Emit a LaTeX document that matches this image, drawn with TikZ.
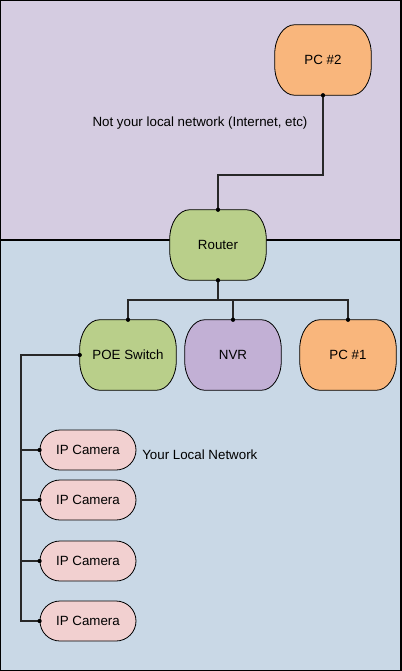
\documentclass[tikz,border=0pt]{standalone}
\usepackage{fontspec}
\setmainfont{Liberation Sans}
\usetikzlibrary{shapes.misc,backgrounds}
\definecolor{topbg}{RGB}{213,204,225}
\definecolor{botbg}{RGB}{201,216,230}
\definecolor{gfill}{RGB}{185,207,138}
\definecolor{vfill}{RGB}{194,176,213}
\definecolor{ofill}{RGB}{249,182,124}
\definecolor{pfill}{RGB}{242,208,208}
\definecolor{wire}{RGB}{40,40,40}
\tikzset{
  bigbox/.style={rectangle, minimum width=72pt, minimum height=52.5pt, inner sep=0pt},
  cam/.style={rounded rectangle, draw=black, line width=0.6pt, fill=pfill, minimum width=72pt, minimum height=30pt, inner sep=0pt},
  wireline/.style={draw=wire, line width=1.1pt},
  lbl/.style={inner sep=0pt},
}
\newcommand\bigshape[2]{%
  \filldraw[fill=#2, draw=black, line width=0.6pt]
    ([xshift=15pt]#1.north west) -- ([xshift=-15pt]#1.north east)
    arc[start angle=90, end angle=0, x radius=15pt, y radius=22pt]
    -- ([yshift=22pt]#1.south east)
    arc[start angle=0, end angle=-90, x radius=15pt, y radius=22pt]
    -- ([xshift=15pt]#1.south west)
    arc[start angle=270, end angle=180, x radius=15pt, y radius=22pt]
    -- ([yshift=-22pt]#1.north west)
    arc[start angle=180, end angle=90, x radius=15pt, y radius=22pt]
    -- cycle;}
\newcommand\jdot[1]{\fill[black] (#1) circle[radius=1.6pt];}
\begin{document}
\begin{tikzpicture}[x=0.75pt, y=-0.75pt, font=\fontsize{10}{12}\selectfont]
\useasboundingbox (0,0) rectangle (401,671);
% nodes
\node[bigbox] (pc2) at (323,60) {PC \#2};
\node[bigbox] (router) at (218,245) {Router};
\node[bigbox] (poe) at (128,355) {POE Switch};
\node[bigbox] (nvr) at (233,355) {NVR};
\node[bigbox] (pc1) at (348,355) {PC \#1};
\node[cam] (cam1) at (88,450) {IP Camera};
\node[cam] (cam2) at (88,500) {IP Camera};
\node[cam] (cam3) at (88,561) {IP Camera};
\node[cam] (cam4) at (88,621) {IP Camera};
\node[lbl] (txtout) at (200,123) {Not your local network (Internet, etc)};
\node[lbl, anchor=west] (txtin) at (142,455) {Your Local Network};
\begin{pgfonlayer}{background}
  \fill[topbg] (0,0) rectangle (401,240);
  \fill[botbg] (0,240) rectangle (401,671);
  \draw[black, line width=0.8pt] (0,240) -- (401,240);
  \draw[black, line width=1.4pt] (0,0) rectangle (401,671);
  \bigshape{pc2}{ofill}
  \bigshape{router}{gfill}
  \bigshape{poe}{gfill}
  \bigshape{nvr}{vfill}
  \bigshape{pc1}{ofill}
\end{pgfonlayer}
% connectors
\coordinate (top) at (218,175);
\coordinate (hub) at (218,300);
\coordinate (busx) at (21,355);
\draw[wireline] (router.north) -- (top) -| (pc2.south);
\draw[wireline, line width=1.6pt] (router.south) -- (hub);
\draw[wireline] (poe.north) |- (hub) -| (pc1.north);
\draw[wireline] (nvr.north) -- (nvr.north |- hub);
\draw[wireline] (poe.west) -- (busx) |- (cam4.west);
\draw[wireline] (cam1.west) -- (cam1.west -| busx);
\draw[wireline] (cam2.west) -- (cam2.west -| busx);
\draw[wireline] (cam3.west) -- (cam3.west -| busx);
\jdot{pc2.south}\jdot{router.north}\jdot{router.south}
\jdot{poe.north}\jdot{nvr.north}\jdot{pc1.north}\jdot{poe.west}
\jdot{cam1.west}\jdot{cam2.west}\jdot{cam3.west}\jdot{cam4.west}
\end{tikzpicture}
\end{document}
